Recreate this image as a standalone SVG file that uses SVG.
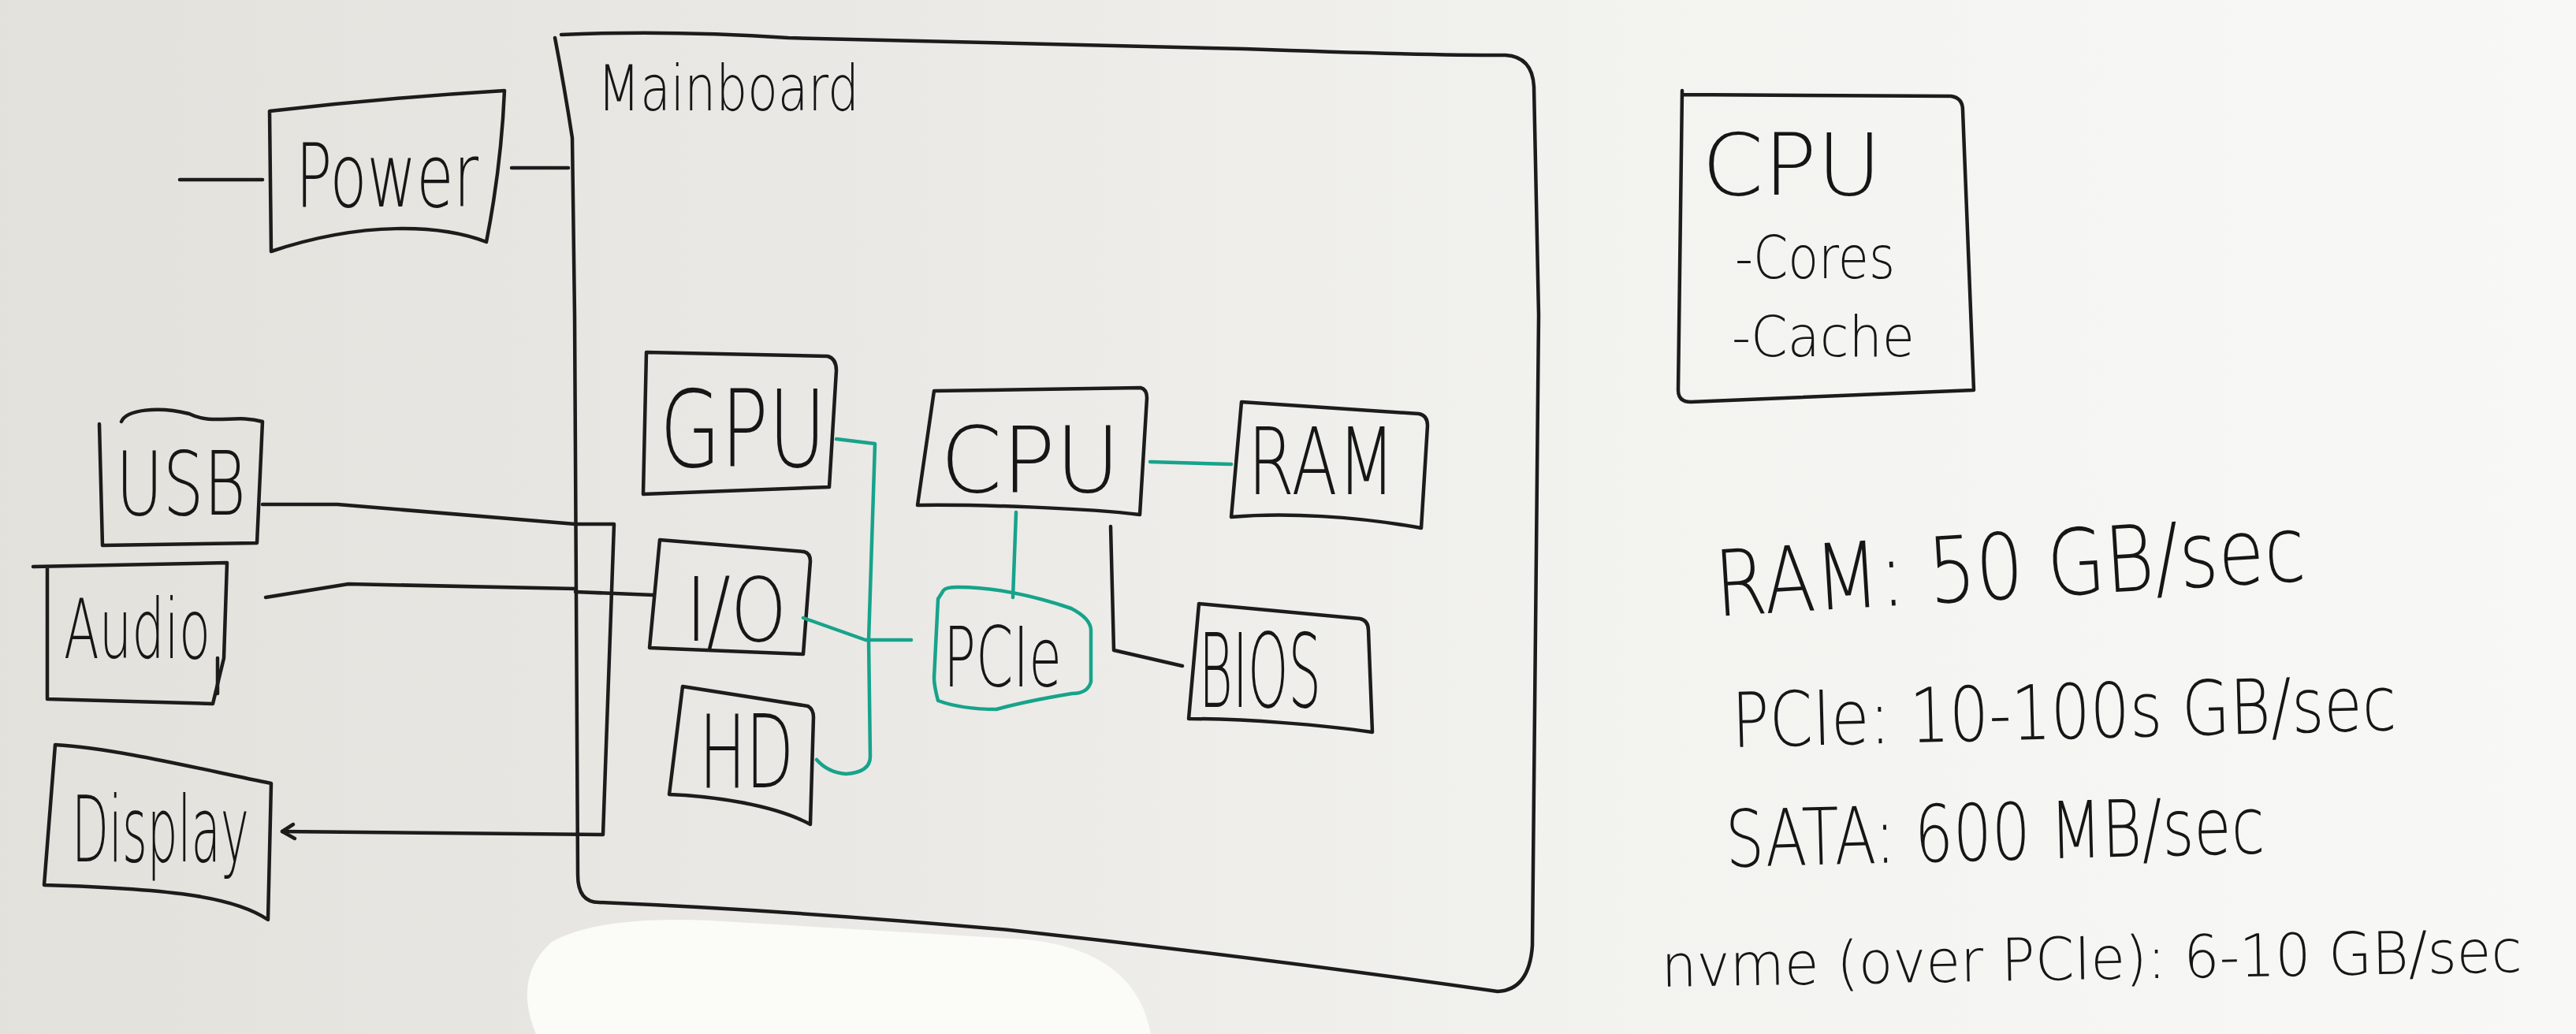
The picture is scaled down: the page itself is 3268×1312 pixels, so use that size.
<svg xmlns="http://www.w3.org/2000/svg" width="3268" height="1312" viewBox="0 0 3268 1312">
<defs>
<linearGradient id="bg" x1="0" y1="0" x2="1" y2="0">
<stop offset="0" stop-color="#e2e1dc"/>
<stop offset="0.35" stop-color="#eae9e5"/>
<stop offset="0.65" stop-color="#f3f3f0"/>
<stop offset="1" stop-color="#f8f8f6"/>
</linearGradient>
<style>
.ink{fill:none;stroke:#1c1c1c;stroke-width:4.5;stroke-linecap:round;stroke-linejoin:round}
.teal{fill:none;stroke:#17a38b;stroke-width:4.5;stroke-linecap:round;stroke-linejoin:round}
.lbl{font-family:"DejaVu Sans","Liberation Sans",Arial,sans-serif;font-weight:200;fill:#161616}
</style>
</defs>
<rect x="0" y="0" width="3268" height="1312" fill="url(#bg)"/>
<path d="M680,1312 Q650,1240 700,1195 Q760,1162 900,1168 L1300,1192 Q1440,1205 1460,1312 Z" fill="#fbfbf8"/>

<g id="mainboard">
<path class="ink" d="M712,44 Q850,38 1000,48 Q1300,54 1579,62 Q1800,70 1910,70 Q1944,72 1946,110 L1952,400 L1944,1200 Q1940,1256 1900,1258 Q1600,1215 1280,1180 Q1000,1155 760,1145 Q733,1145 733,1110 L729,400 L726,175 Q716,110 704,48"/>
<text class="lbl" x="758" y="140" font-size="80" textLength="332" lengthAdjust="spacingAndGlyphs">Mainboard</text>
</g>

<g id="power">
<path class="ink" d="M342,141 Q490,124 640,115 Q636,210 617,307 C560,285 460,280 344,319 Z"/>
<text class="lbl" x="375" y="262" font-size="112" textLength="232" lengthAdjust="spacingAndGlyphs">Power</text>
</g>

<g id="usb">
<path class="ink" d="M126,538 L130,692 L326,689 L333,535 C300,525 270,540 240,525 C200,515 160,520 154,535"/>
<text class="lbl" x="147" y="653" font-size="112" textLength="165" lengthAdjust="spacingAndGlyphs">USB</text>
</g>

<g id="audio">
<path class="ink" d="M42,719 L288,714 L284,835 L270,893 L60,887 L60,719"/>
<path class="ink" d="M276,835 L276,880"/>
<text class="lbl" x="81" y="835" font-size="105" textLength="186" lengthAdjust="spacingAndGlyphs">Audio</text>
</g>

<g id="display">
<path class="ink" d="M70,945 C150,950 250,975 344,994 L340,1167 C300,1140 230,1128 56,1123 Z"/>
<text class="lbl" x="91" y="1093" font-size="115" textLength="225" lengthAdjust="spacingAndGlyphs">Display</text>
</g>

<g id="gpu">
<path class="ink" d="M820,447 L1050,452 Q1061,455 1061,470 L1052,618 L816,627 Z"/>
<text class="lbl" x="837" y="592" font-size="135" textLength="211" lengthAdjust="spacingAndGlyphs">GPU</text>
</g>

<g id="io">
<path class="ink" d="M837,685 L1020,700 Q1028,702 1028,712 L1019,830 L824,822 Z"/>
<text class="lbl" x="870" y="813" font-size="112" textLength="128" lengthAdjust="spacingAndGlyphs">I/O</text>
</g>

<g id="hd">
<path class="ink" d="M866,871 L1025,896 Q1032,900 1032,910 L1028,1046 C980,1020 900,1010 849,1008 Z"/>
<text class="lbl" x="887" y="999" font-size="128" textLength="120" lengthAdjust="spacingAndGlyphs">HD</text>
</g>

<g id="cpu">
<path class="ink" d="M1185,496 L1447,492 Q1455,494 1455,505 L1446,653 C1380,645 1250,640 1164,641 Z"/>
<text class="lbl" x="1193" y="624" font-size="115" textLength="228" lengthAdjust="spacingAndGlyphs">CPU</text>
</g>

<g id="ram">
<path class="ink" d="M1575,510 L1800,525 Q1811,527 1811,540 L1803,670 C1720,655 1630,650 1562,656 Z"/>
<text class="lbl" x="1583" y="627" font-size="118" textLength="187" lengthAdjust="spacingAndGlyphs">RAM</text>
</g>

<g id="pcie">
<path class="teal" d="M1197,749 Q1200,745 1215,745 Q1280,745 1359,772 Q1384,785 1384,800 L1384,865 Q1380,880 1360,880 Q1300,890 1264,900 Q1220,900 1190,889 Q1185,870 1185,860 L1190,760 Z"/>
<text class="lbl" x="1197" y="871" font-size="105" textLength="150" lengthAdjust="spacingAndGlyphs">PCIe</text>
</g>

<g id="bios">
<path class="ink" d="M1521,766 L1725,785 Q1736,787 1736,800 L1741,929 C1680,920 1580,912 1508,912 Z"/>
<text class="lbl" x="1521" y="897" font-size="130" textLength="155" lengthAdjust="spacingAndGlyphs">BIOS</text>
</g>

<g id="cpu-notes">
<path class="ink" d="M2136,120 L2475,122 Q2490,124 2490,140 L2504,495 L2145,510 Q2129,510 2129,495 L2134,115"/>
<text class="lbl" x="2159" y="247" font-size="108" textLength="228" lengthAdjust="spacingAndGlyphs">CPU</text>
<text class="lbl" x="2201" y="353" font-size="74" textLength="203" lengthAdjust="spacingAndGlyphs">-Cores</text>
<text class="lbl" x="2197" y="452" font-size="72" textLength="232" lengthAdjust="spacingAndGlyphs">-Cache</text>
</g>

<g id="rates">
<text class="lbl" x="2178" y="782" font-size="116" textLength="750" lengthAdjust="spacingAndGlyphs" transform="rotate(-3.5 2178 782)">RAM: 50 GB/sec</text>
<text class="lbl" x="2198" y="948" font-size="96" textLength="843" lengthAdjust="spacingAndGlyphs" transform="rotate(-1.5 2198 948)">PCIe: 10-100s GB/sec</text>
<text class="lbl" x="2190" y="1100" font-size="100" textLength="684" lengthAdjust="spacingAndGlyphs" transform="rotate(-1.5 2190 1100)">SATA: 600 MB/sec</text>
<text class="lbl" x="2108" y="1252" font-size="75" textLength="1092" lengthAdjust="spacingAndGlyphs" transform="rotate(-1 2108 1252)">nvme (over PCIe): 6-10 GB/sec</text>
</g>

<g id="connectors">
<path class="ink" d="M228,228 L333,228"/>
<path class="ink" d="M649,213 L721,213"/>
<path class="ink" d="M333,640 L428,640 L730,665 L779,665 L765,1059 L358,1055"/>
<path class="ink" d="M372,1046 L358,1055 L374,1064"/>
<path class="ink" d="M337,758 L442,741 L730,747"/>
<path class="ink" d="M730,751 L829,755"/>
<path class="ink" d="M1409,668 L1413,825 L1500,845"/>
<path class="teal" d="M1061,557 L1110,563 L1102,812 L1104,960 Q1104,980 1073,982 Q1050,980 1036,964"/>
<path class="teal" d="M1019,784 L1098,812 L1156,812"/>
<path class="teal" d="M1459,586 L1562,589"/>
<path class="teal" d="M1289,650 L1285,758"/>
</g>
</svg>
